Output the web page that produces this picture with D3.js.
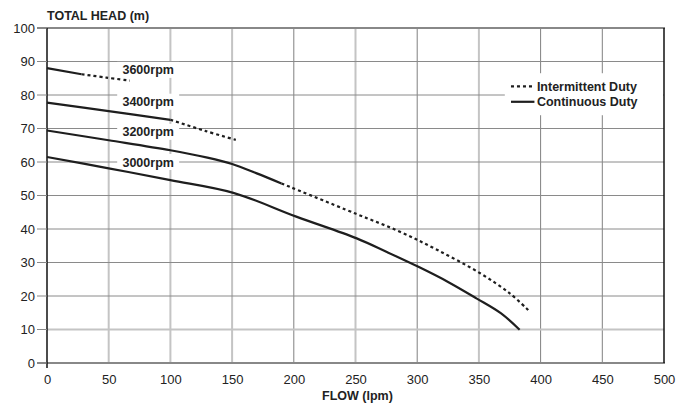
<!DOCTYPE html>
<html>
<head>
<meta charset="utf-8">
<script src="https://cdn.jsdelivr.net/npm/d3@7"></script>
<style>
  body { margin: 0; background: #fff; }
  svg text { font-family: "Liberation Sans", Arial, sans-serif; fill: #222; }
  .tick-label { font-size: 13px; }
  .bold-label { font-size: 12.5px; font-weight: bold; }
</style>
</head>
<body>
<svg id="chart"></svg>
<script>
// curves: [flow (lpm), head (m)]
const rpm3600Continuous = [[0, 88], [28, 86.2]];
const rpm3600Intermittent = [[28, 86.2], [48, 85.2], [67, 84.3]];
const rpm3400Continuous = [[0, 77.7], [50, 75.2], [100, 72.6]];
const rpm3400Intermittent = [[100, 72.6], [128, 69.3], [153, 66.6]];
const rpm3200Continuous = [[0, 69.4], [50, 66.5], [100, 63.5], [130, 61.3], [150, 59.4], [170, 56.6], [190, 53.6]];
const rpm3200Intermittent = [[190, 53.6], [250, 44.6], [286, 39.2], [316, 33.8], [351, 26.8], [375, 20.8], [390, 15.8]];
const rpm3000Continuous = [[0, 61.5], [50, 58.1], [100, 54.6], [151, 50.8], [202, 43.7], [251, 37.2], [275, 33.2], [301, 28.7], [325, 24.2], [348, 19.3], [368, 14.8], [383, 9.9]];

const speedLabels = ['3600rpm', '3400rpm', '3200rpm', '3000rpm'];
const speedLabelHeads = [87.5, 78, 69, 60];
const legendLabels = ['Intermittent Duty', 'Continuous Duty'];

const xTicks = d3.range(0, 501, 50);
const yTicks = d3.range(0, 101, 10);

const width = 694, height = 409;
const margin = { top: 28, right: 30, bottom: 46, left: 47 };
const innerW = width - margin.left - margin.right;
const innerH = height - margin.top - margin.bottom;

const svg = d3.select('#chart')
    .attr('width', width)
    .attr('height', height);

const chart = svg.append('g')
    .attr('transform', `translate(${margin.left},${margin.top})`);

const x = d3.scaleLinear().domain([0, 500]).range([0, innerW]);
const y = d3.scaleLinear().domain([0, 100]).range([innerH, 0]);

// grid - mixed light/dark lines like the original print
const lightX = [50, 100, 150, 250, 350];
chart.append('g').selectAll('line')
    .data(xTicks.filter(d => d > 0 && d < 500))
    .join('line')
    .attr('x1', d => x(d)).attr('x2', d => x(d))
    .attr('y1', 0).attr('y2', innerH)
    .attr('stroke', d => lightX.includes(d) ? '#c4c4c4' : '#808080')
    .attr('stroke-width', d => lightX.includes(d) ? 2 : 1);

chart.append('g').selectAll('line')
    .data(yTicks.filter(d => d > 0 && d < 100))
    .join('line')
    .attr('x1', 0).attr('x2', innerW)
    .attr('y1', d => y(d)).attr('y2', d => y(d))
    .attr('stroke', d => d === 10 ? '#c4c4c4' : '#8a8a8a')
    .attr('stroke-width', d => d === 10 ? 2 : 1);

// top and bottom frame
chart.append('line').attr('x1', -10).attr('x2', innerW + 1).attr('y1', y(100)).attr('y2', y(100))
    .attr('stroke', '#888').attr('stroke-width', 2);
chart.append('line').attr('x1', -10).attr('x2', innerW + 1).attr('y1', y(0)).attr('y2', y(0))
    .attr('stroke', '#888').attr('stroke-width', 2);
chart.append('line').attr('x1', 0).attr('x2', 0).attr('y1', y(100)).attr('y2', y(0) + 5)
    .attr('stroke', '#111').attr('stroke-width', 1.5);
chart.append('line').attr('x1', innerW).attr('x2', innerW).attr('y1', y(100)).attr('y2', y(0))
    .attr('stroke', '#111').attr('stroke-width', 1.5);

// axes
const xAxis = d3.axisBottom(x).tickValues(xTicks).tickSize(0).tickPadding(12);
const yAxis = d3.axisLeft(y).tickValues(yTicks).tickSize(0).tickPadding(12);

chart.append('g').attr('transform', `translate(0,${innerH})`).call(xAxis)
    .call(g => g.select('.domain').remove())
    .selectAll('text').attr('class', 'tick-label').attr('font-size', null).attr('font-family', null);
const yg = chart.append('g').call(yAxis)
    .call(g => g.select('.domain').remove());
yg.selectAll('text').attr('class', 'tick-label').attr('font-size', null).attr('font-family', null);
// short tick marks on y axis
chart.append('g').selectAll('line').data(yTicks).join('line')
    .attr('x1', -10).attr('x2', 0).attr('y1', d => y(d)).attr('y2', d => y(d))
    .attr('stroke', '#888').attr('stroke-width', 1);

svg.append('text').attr('class', 'bold-label')
    .attr('x', margin.left).attr('y', 20).text('TOTAL HEAD (m)');
svg.append('text').attr('class', 'bold-label')
    .attr('x', margin.left + x(250) + 2).attr('y', 400)
    .attr('text-anchor', 'middle').text('FLOW (lpm)');

// speed labels with white boxes
const labelG = chart.append('g');
speedLabels.forEach((s, i) => {
    const cx = x(82);
    const cy = y(speedLabelHeads[i]);
    labelG.append('rect')
        .attr('x', cx - 31).attr('y', cy - 8).attr('width', 62).attr('height', 16)
        .attr('fill', '#fff');
    labelG.append('text').attr('class', 'bold-label')
        .attr('x', cx).attr('y', cy + 4.5).attr('text-anchor', 'middle').text(s);
});

// curves
const line = d3.line().x(d => x(d[0])).y(d => y(d[1])).curve(d3.curveCatmullRom.alpha(0.5));
const solid = [rpm3600Continuous, rpm3400Continuous, rpm3200Continuous, rpm3000Continuous];
const dotted = [rpm3600Intermittent, rpm3400Intermittent, rpm3200Intermittent];

chart.append('g').selectAll('path').data(solid).join('path')
    .attr('d', line).attr('fill', 'none')
    .attr('stroke', '#1e1e1e').attr('stroke-width', 2.2);
chart.append('g').selectAll('path').data(dotted).join('path')
    .attr('d', line).attr('fill', 'none')
    .attr('stroke', '#1e1e1e').attr('stroke-width', 2.2)
    .attr('stroke-dasharray', '3,3');

// legend
const lg = chart.append('g');
lg.append('rect').attr('x', x(371)).attr('y', y(86.5)).attr('width', innerW - x(371) - 1).attr('height', 42)
    .attr('fill', '#fff');
legendLabels.forEach((t, i) => {
    const ly = y(82.6) + i * 15.5;
    lg.append('line')
        .attr('x1', x(376)).attr('x2', x(395))
        .attr('y1', ly).attr('y2', ly)
        .attr('stroke', '#1e1e1e').attr('stroke-width', 2.2)
        .attr('stroke-dasharray', i === 0 ? '3,3' : null);
    lg.append('text').attr('class', 'bold-label')
        .attr('x', x(397)).attr('y', ly + 4.5).text(t);
});
</script>
</body>
</html>
